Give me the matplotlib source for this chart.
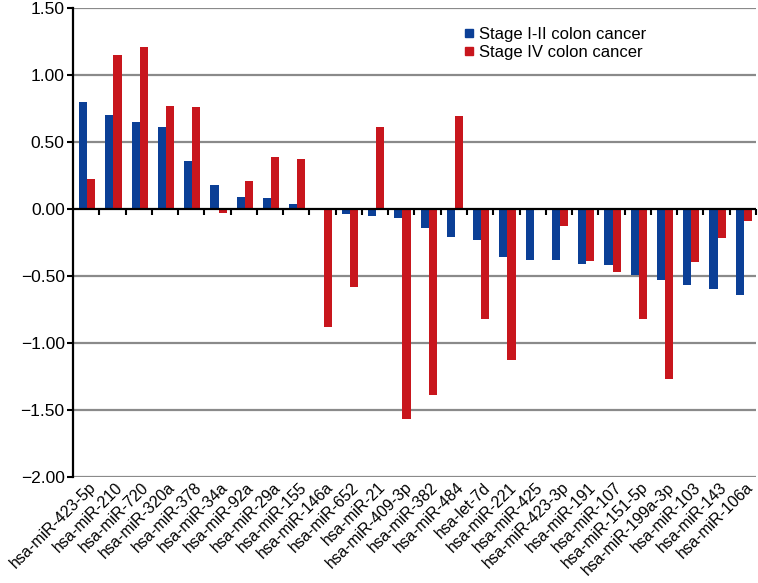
import numpy as np
import matplotlib.pyplot as plt
from matplotlib.lines import Line2D

plt.rcParams['font.family'] = ['Liberation Sans', 'DejaVu Sans']

mirnas = ['hsa-miR-423-5p', 'hsa-miR-210', 'hsa-miR-720', 'hsa-miR-320a', 'hsa-miR-378',
          'hsa-miR-34a', 'hsa-miR-92a', 'hsa-miR-29a', 'hsa-miR-155', 'hsa-miR-146a',
          'hsa-miR-652', 'hsa-miR-21', 'hsa-miR-409-3p', 'hsa-miR-382', 'hsa-miR-484',
          'hsa-let-7d', 'hsa-miR-221', 'hsa-miR-425', 'hsa-miR-423-3p', 'hsa-miR-191',
          'hsa-miR-107', 'hsa-miR-151-5p', 'hsa-miR-199a-3p', 'hsa-miR-103', 'hsa-miR-143',
          'hsa-miR-106a']
stage_1_2 = [0.80, 0.70, 0.65, 0.61, 0.36, 0.18, 0.09, 0.08, 0.035, -0.005,
             -0.04, -0.05, -0.07, -0.14, -0.21, -0.23, -0.36, -0.38, -0.38, -0.41,
             -0.42, -0.49, -0.53, -0.57, -0.60, -0.64]
stage_4 = [0.22, 1.15, 1.21, 0.77, 0.76, -0.03, 0.21, 0.39, 0.37, -0.88,
           -0.58, 0.61, -1.57, -1.39, 0.69, -0.82, -1.13, 0.0, -0.13, -0.39,
           -0.47, -0.82, -1.27, -0.40, -0.22, -0.09]
yticks = [1.5, 1.0, 0.5, 0.0, -0.5, -1.0, -1.5, -2.0]

blue = '#0b3f96'
red = '#c8161d'

fig = plt.figure(figsize=(7.58, 5.83), dpi=100)
ax = fig.add_axes([0.0963, 0.182, 0.901, 0.8045])

x = np.arange(len(mirnas))
w = 0.31
ax.bar(x - w / 2 + 0.04, stage_1_2, width=w, color=blue, zorder=3)
ax.bar(x + w / 2 + 0.04, stage_4, width=w, color=red, zorder=3)

ax.set_xlim(-0.5, len(mirnas) - 0.5)
ax.set_ylim(-2.0, 1.5)
ax.set_yticks(yticks)
ax.set_yticklabels([f'{v:.2f}'.replace('-', '\u2212') for v in yticks], fontsize=12.5)

for v in yticks:
    if v != 0:
        ax.axhline(v, color='#8a8a8a', lw=1.6, zorder=1)
ax.axhline(0, color='black', lw=1.6, zorder=4)

for s in ['top', 'right', 'bottom']:
    ax.spines[s].set_visible(False)
ax.spines['left'].set_linewidth(1.6)
ax.tick_params(axis='y', length=4, width=1.5, pad=2)

# category boundary ticks hanging below the zero line
ax.set_xticks([])
ax.plot(np.arange(len(mirnas)) + 0.5, np.zeros(len(mirnas)), linestyle='none',
        marker=3, markersize=4, markeredgewidth=1.5, color='black', zorder=5,
        clip_on=False)
for i, name in enumerate(mirnas):
    ax.annotate(name, xy=(i + 0.1, -2.0), xycoords='data',
                xytext=(0, -2), textcoords='offset points',
                rotation=45, ha='right', va='top', rotation_mode='anchor',
                fontsize=11.5, annotation_clip=False)

handles = [Line2D([], [], linestyle='none', marker='s', markersize=6, color=blue),
           Line2D([], [], linestyle='none', marker='s', markersize=6, color=red)]
ax.legend(handles, ['Stage I-II colon cancer', 'Stage IV colon cancer'],
          loc='upper left', bbox_to_anchor=(0.55, 0.992), frameon=False,
          fontsize=12, handlelength=0.6, handletextpad=0.35, labelspacing=0.2)

fig.savefig('out.png', dpi=100)
